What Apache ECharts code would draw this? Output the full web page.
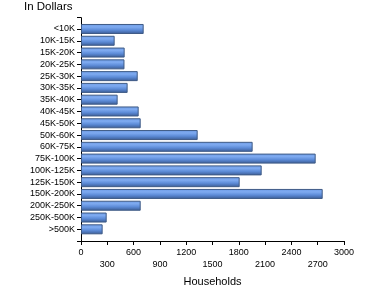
<!DOCTYPE html>
<html>
<head>
<meta charset="utf-8">
<script src="https://cdn.jsdelivr.net/npm/echarts@6/dist/echarts.min.js"></script>
<style>
html,body{margin:0;padding:0;background:#fff;}
#c{width:370px;height:300px;}
</style>
</head>
<body>
<div id="c"></div>
<script>
var categories = ['<10K','10K-15K','15K-20K','20K-25K','25K-30K','30K-35K','35K-40K','40K-45K','45K-50K','50K-60K','60K-75K','75K-100K','100K-125K','125K-150K','150K-200K','200K-250K','250K-500K','>500K'];
var households = [715, 384, 498, 496, 647, 532, 418, 658, 681, 1331, 1958, 2677, 2061, 1810, 2757, 681, 293, 247];
var xMin = 0, xMax = 3000, xStep = 300;
var titleText = 'In Dollars';
var xAxisName = 'Households';

var FONT = '"Liberation Sans", Arial, sans-serif';
var chart = echarts.init(document.getElementById('c'), null, {renderer: 'canvas'});
chart.setOption({
  animation: false,
  backgroundColor: '#ffffff',
  title: {
    text: titleText, left: 24, top: 1, padding: 0,
    textStyle: {fontFamily: FONT, fontSize: 11.5, fontWeight: 'normal', color: '#000'}
  },
  grid: [
    {left: 81, right: 26, top: 23.1, height: 212.1, containLabel: false},
    {left: 81, right: 26, top: 17.7, height: 223.3, containLabel: false}
  ],
  xAxis: [
    {gridIndex: 0, type: 'value', min: xMin, max: xMax, interval: xStep, show: false},
    {gridIndex: 1, type: 'value', min: xMin, max: xMax, interval: xStep,
     axisLine: {show: true, lineStyle: {color: '#000', width: 1}},
     axisTick: {show: true, length: 4, lineStyle: {color: '#000'}},
     splitLine: {show: false},
     axisLabel: {
       fontFamily: FONT, fontSize: 9, color: '#000', margin: 5, lineHeight: 12.6,
       showMinLabel: true, showMaxLabel: true,
       formatter: function (v) { return (Math.round(v / xStep) % 2 === 0) ? String(v) : '\n' + v; }
     },
     name: xAxisName, nameLocation: 'middle', nameGap: 33,
     nameTextStyle: {fontFamily: FONT, fontSize: 11, color: '#000'}
    }
  ],
  yAxis: [
    {gridIndex: 0, type: 'category', data: categories, inverse: true,
     axisLine: {show: false},
     axisTick: {show: true, alignWithLabel: true, length: 4, lineStyle: {color: '#000'}},
     axisLabel: {fontFamily: FONT, fontSize: 9, color: '#000', margin: 6, interval: 0}
    },
    {gridIndex: 1, type: 'value', min: 0, max: 1, interval: 1,
     axisLine: {show: true, lineStyle: {color: '#000', width: 1}},
     axisTick: {show: true, length: 4, lineStyle: {color: '#000'}},
     axisLabel: {show: false}, splitLine: {show: false}
    }
  ],
  series: [{
    type: 'bar', xAxisIndex: 0, yAxisIndex: 0,
    data: households,
    barCategoryGap: '15%',
    itemStyle: {
      borderColor: '#3f5b86', borderWidth: 1,
      color: new echarts.graphic.LinearGradient(0, 0, 0, 1, [
        {offset: 0, color: '#6f9de6'},
        {offset: 0.3, color: '#7eaaf0'},
        {offset: 0.6, color: '#5d8cd8'},
        {offset: 1, color: '#3a5a92'}
      ])
    }
  }]
});
</script>
</body>
</html>
